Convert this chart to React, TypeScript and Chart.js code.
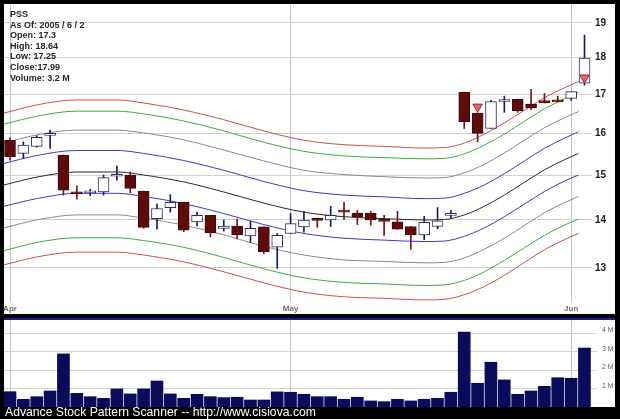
import { useEffect, useRef } from 'react';
import { Chart, registerables } from 'chart.js';

Chart.register(...registerables);

// ---- quote data (one entry per trading day, Apr 1 .. Jun 2, 2005) ----
const symbol = 'PSS';
const asOf = '2005 / 6 / 2';

const monthTickIndex = [0, 21, 42];
const monthLabels = ['Apr', 'May', 'Jun'];
const priceTicks = [13, 14, 15, 16, 17, 18, 19];
const volumeTicks = [1, 2, 3, 4];

const opens = [
  15.84, 15.52, 15.69, 15.96, 15.48, 14.62, 14.6, 14.62, 14.98, 15.01, 14.64,
  14.03, 14.27, 14.39, 13.96, 14.1, 13.82, 13.87, 13.66, 13.85, 13.42, 13.71,
  13.85, 14.04, 14.0, 14.19, 14.15, 14.15, 13.99, 13.96, 13.86, 13.68, 13.86,
  14.1, 17.06, 16.52, 16.13, 16.82, 16.88, 16.75, 16.81, 16.85, 16.9, 17.3,
];
const highs = [
  15.9, 15.8, 15.95, 16.09, 15.48, 14.76, 14.68, 15.01, 15.22, 15.08, 14.64,
  14.35, 14.56, 14.39, 14.17, 14.1, 14.0, 14.02, 13.97, 13.85, 13.71, 14.14,
  14.19, 14.04, 14.3, 14.39, 14.21, 14.19, 14.1, 14.19, 13.86, 14.08, 14.27,
  14.21, 17.06, 16.52, 16.85, 16.96, 16.88, 17.14, 17.03, 16.96, 17.08, 18.64,
];
const lows = [
  15.36, 15.41, 15.67, 15.64, 14.55, 14.46, 14.54, 14.55, 14.89, 14.6, 13.82,
  13.8, 14.17, 13.75, 13.87, 13.64, 13.76, 13.6, 13.52, 13.29, 12.99, 13.71,
  13.74, 13.84, 13.86, 14.01, 13.9, 13.89, 13.67, 13.8, 13.38, 13.58, 13.81,
  14.04, 16.13, 15.8, 16.13, 16.54, 16.54, 16.61, 16.78, 16.81, 16.85, 17.25,
];
const closes = [
  15.44, 15.72, 15.91, 15.98, 14.66, 14.58, 14.62, 14.95, 15.02, 14.7, 13.84,
  14.25, 14.39, 13.78, 14.1, 13.73, 13.87, 13.68, 13.82, 13.33, 13.67, 13.92,
  14.0, 13.99, 14.1, 14.17, 14.06, 14.0, 13.97, 13.8, 13.68, 13.95, 13.98,
  14.12, 16.3, 16.01, 16.82, 16.83, 16.58, 16.65, 16.79, 16.81, 17.08, 17.99,
];
// volume in millions of shares
const volumes = [
  0.83, 0.42, 0.56, 0.87, 2.88, 0.74, 0.56, 0.47, 0.98, 0.71, 0.98, 1.41,
  0.71, 0.47, 0.69, 0.56, 0.51, 0.53, 0.38, 0.38, 0.82, 0.8, 0.69, 0.56,
  0.56, 0.42, 0.53, 0.33, 0.29, 0.42, 0.33, 0.42, 0.47, 0.8, 4.06, 1.29,
  2.43, 1.47, 0.69, 0.87, 1.12, 1.59, 1.56, 3.2,
];

// scanner signal markers (day index, price)
const signalIndex = [35, 43];
const signalPrice = [16.68, 17.45];

// envelope bands around the moving average, sampled along the day axis
const bandX = [
  -0.45, 2, 5, 8, 10, 13, 16, 19, 22, 25, 28, 31, 32.5, 34, 35.5, 37, 38.5, 40,
  41.5, 42.55,
];
const redUpper = [
  16.52, 16.73, 16.86, 16.86, 16.78, 16.6, 16.35, 16.07, 15.84, 15.73, 15.69,
  15.65, 15.66, 15.77, 15.99, 16.27, 16.59, 16.92, 17.18, 17.35,
];
const greenUpper = [
  16.24, 16.44, 16.57, 16.57, 16.5, 16.32, 16.07, 15.79, 15.57, 15.46, 15.42,
  15.39, 15.4, 15.51, 15.72, 15.99, 16.31, 16.63, 16.89, 17.06,
];
const grayUpper = [
  15.77, 15.97, 16.09, 16.09, 16.02, 15.85, 15.6, 15.34, 15.12, 15.02, 14.97,
  14.94, 14.95, 15.06, 15.26, 15.53, 15.84, 16.15, 16.4, 16.56,
];
const blueUpper = [
  15.28, 15.47, 15.59, 15.59, 15.52, 15.35, 15.12, 14.86, 14.65, 14.55, 14.51,
  14.47, 14.48, 14.59, 14.78, 15.04, 15.34, 15.64, 15.89, 16.05,
];
const centerLine = [
  14.78, 14.96, 15.08, 15.08, 15.01, 14.85, 14.62, 14.37, 14.17, 14.07, 14.03,
  14.0, 14.01, 14.11, 14.3, 14.55, 14.84, 15.13, 15.37, 15.52,
];
const blueLower = [
  14.3, 14.47, 14.59, 14.59, 14.52, 14.36, 14.14, 13.9, 13.71, 13.61, 13.57,
  13.54, 13.55, 13.65, 13.83, 14.07, 14.35, 14.63, 14.87, 15.01,
];
const grayLower = [
  13.83, 14.0, 14.11, 14.11, 14.04, 13.89, 13.68, 13.44, 13.26, 13.16, 13.13,
  13.1, 13.11, 13.2, 13.38, 13.61, 13.88, 14.16, 14.38, 14.52,
];
const greenLower = [
  13.35, 13.52, 13.62, 13.62, 13.56, 13.42, 13.21, 12.98, 12.8, 12.71, 12.68,
  12.65, 12.66, 12.75, 12.92, 13.15, 13.41, 13.67, 13.89, 14.02,
];
const redLower = [
  13.06, 13.22, 13.32, 13.32, 13.26, 13.12, 12.92, 12.7, 12.52, 12.43, 12.4,
  12.37, 12.38, 12.47, 12.63, 12.85, 13.11, 13.37, 13.58, 13.71,
];

const bands = [
  { values: redUpper, color: '#d24b4b' },
  { values: greenUpper, color: '#3aae3a' },
  { values: grayUpper, color: '#8a8a8a' },
  { values: blueUpper, color: '#3a3ac4' },
  { values: centerLine, color: '#2a2a2a' },
  { values: blueLower, color: '#3a3ac4' },
  { values: grayLower, color: '#8a8a8a' },
  { values: greenLower, color: '#3aae3a' },
  { values: redLower, color: '#d24b4b' },
];

const FONT = '"Liberation Sans", Arial, Helvetica, sans-serif';
const NAVY = '#1c1c5e';
const CANDLE_RED = '#5e0b0b';

Chart.defaults.font.family = FONT;

const noPad = (s: any) => {
  s.paddingLeft = 0;
  s.paddingRight = 0;
  s.paddingTop = 0;
  s.paddingBottom = 0;
};

function PriceChart() {
  const ref = useRef<HTMLCanvasElement>(null);
  useEffect(() => {
    const rising = closes.map((c, i) => c >= opens[i]);
    const chart = new Chart(ref.current!, {
      type: 'bar',
      data: {
        datasets: [
          ...bands.map((b) => ({
            type: 'line' as const,
            data: bandX.map((x, k) => ({ x, y: b.values[k] })),
            borderColor: b.color,
            borderWidth: 1,
            pointRadius: 0,
            cubicInterpolationMode: 'monotone' as const,
            order: 3,
          })),
          {
            type: 'bar' as const,
            data: opens.map((_, i) => ({ x: i, y: [lows[i], highs[i]] })),
            backgroundColor: rising.map((r) => (r ? NAVY : '#6a1a1a')),
            barThickness: 1,
            grouped: false,
            order: 2,
          },
          {
            type: 'bar' as const,
            data: opens.map((o, i) => ({ x: i, y: [o, closes[i]] })),
            backgroundColor: rising.map((r) => (r ? '#ffffff' : CANDLE_RED)),
            borderColor: rising.map((r) => (r ? '#2c2c6c' : '#4a0606')),
            borderWidth: 1,
            borderSkipped: false,
            barThickness: 11,
            minBarLength: 2,
            grouped: false,
            order: 1,
          },
          {
            type: 'line' as const,
            data: signalIndex.map((x, k) => ({ x, y: signalPrice[k] })),
            showLine: false,
            pointStyle: 'triangle',
            rotation: 180,
            pointRadius: 5.5,
            pointBackgroundColor: '#f06464',
            pointBorderColor: '#8c2e2e',
            pointBorderWidth: 1,
            order: 0,
          },
        ] as any,
      },
      options: {
        responsive: false,
        animation: false,
        devicePixelRatio: 1,
        layout: { padding: 0, autoPadding: false },
        plugins: { legend: { display: false }, tooltip: { enabled: false } },
        scales: {
          x: {
            type: 'linear',
            position: 'bottom',
            offset: false,
            min: -0.45,
            max: 43.56,
            bounds: 'data',
            afterBuildTicks: (s: any) => {
              s.ticks = monthTickIndex.map((v) => ({ value: v }));
            },
            afterFit: (s: any) => {
              s.height = 12;
              noPad(s);
            },
            ticks: {
              autoSkip: false,
              maxRotation: 0,
              padding: 2,
              color: '#707070',
              font: { size: 8, weight: 'bold' },
              callback: (v: any) => monthLabels[monthTickIndex.indexOf(Number(v))] ?? '',
            },
            grid: { color: '#c6c6c6', drawTicks: false, offset: false },
            border: { display: false },
          },
          y: {
            type: 'logarithmic',
            position: 'right',
            min: 12.33,
            max: 19.56,
            bounds: 'data',
            afterBuildTicks: (s: any) => {
              s.ticks = priceTicks.map((v) => ({ value: v }));
            },
            afterFit: (s: any) => {
              s.width = 23;
              noPad(s);
            },
            ticks: {
              padding: 3,
              color: '#202020',
              font: { size: 10, weight: 'bold' },
              callback: (v: any) => String(v),
            },
            grid: { color: '#d2d2d2', drawTicks: false },
            border: { display: false },
          },
        },
      } as any,
    });
    return () => chart.destroy();
  }, []);
  return (
    <canvas
      ref={ref}
      width={611}
      height={310}
      style={{ position: 'absolute', left: 4, top: 4, width: 611, height: 310, background: '#fff' }}
    />
  );
}

function VolumeChart() {
  const ref = useRef<HTMLCanvasElement>(null);
  useEffect(() => {
    const chart = new Chart(ref.current!, {
      type: 'bar',
      data: {
        datasets: [
          {
            data: volumes.map((v, i) => ({ x: i, y: v })),
            backgroundColor: '#0b0b5c',
            borderWidth: 0,
            barThickness: 12,
          },
        ],
      },
      options: {
        responsive: false,
        animation: false,
        devicePixelRatio: 1,
        layout: { padding: 0, autoPadding: false },
        plugins: { legend: { display: false }, tooltip: { enabled: false } },
        scales: {
          x: {
            type: 'linear',
            offset: false,
            min: -0.45,
            max: 43.94,
            bounds: 'data',
            afterBuildTicks: (s: any) => {
              s.ticks = monthTickIndex.map((v) => ({ value: v }));
            },
            afterFit: (s: any) => {
              s.height = 0;
              noPad(s);
            },
            ticks: { display: false },
            grid: { color: '#c6c6c6', drawTicks: false, offset: false },
            border: { display: false },
          },
          y: {
            position: 'right',
            min: 0,
            max: 4.72,
            bounds: 'data',
            afterBuildTicks: (s: any) => {
              s.ticks = volumeTicks.map((v) => ({ value: v }));
            },
            afterFit: (s: any) => {
              s.width = 18;
              noPad(s);
            },
            ticks: {
              padding: 5,
              labelOffset: -3,
              color: '#5a5a6a',
              font: { size: 7 },
              callback: (v: any) => `${v} M`,
            },
            grid: { color: '#d2d2d2', drawTicks: false },
            border: { display: false },
          },
        },
      } as any,
    });
    return () => chart.destroy();
  }, []);
  return (
    <canvas
      ref={ref}
      width={611}
      height={87}
      style={{ position: 'absolute', left: 4, top: 320, width: 611, height: 87, background: '#fff' }}
    />
  );
}

export default function App() {
  const last = opens.length - 1;
  const info = [
    symbol,
    `As Of: ${asOf}`,
    `Open: ${opens[last]}`,
    `High: ${highs[last]}`,
    `Low: ${lows[last]}`,
    `Close:${closes[last]}`,
    `Volume: ${volumes[last]} M`,
  ];
  return (
    <div
      style={{
        position: 'fixed',
        left: 0,
        top: 0,
        width: 620,
        height: 419,
        background: '#000',
        overflow: 'hidden',
        fontFamily: FONT,
      }}
    >
      <PriceChart />
      <div style={{ position: 'absolute', left: 4, top: 318, width: 611, height: 2, background: '#1e1e8a' }} />
      <VolumeChart />
      <div
        style={{
          position: 'absolute',
          left: 10,
          top: 9,
          fontSize: 9,
          fontWeight: 'bold',
          lineHeight: '10.6px',
          color: '#262626',
          whiteSpace: 'pre',
        }}
      >
        {info.map((t) => (
          <div key={t}>{t}</div>
        ))}
      </div>
      <div
        style={{
          position: 'absolute',
          left: 5,
          top: 406,
          fontSize: 12.2,
          lineHeight: '13px',
          color: '#fff',
          whiteSpace: 'pre',
        }}
      >
        Advance Stock Pattern Scanner -- http://www.cisiova.com
      </div>
    </div>
  );
}
